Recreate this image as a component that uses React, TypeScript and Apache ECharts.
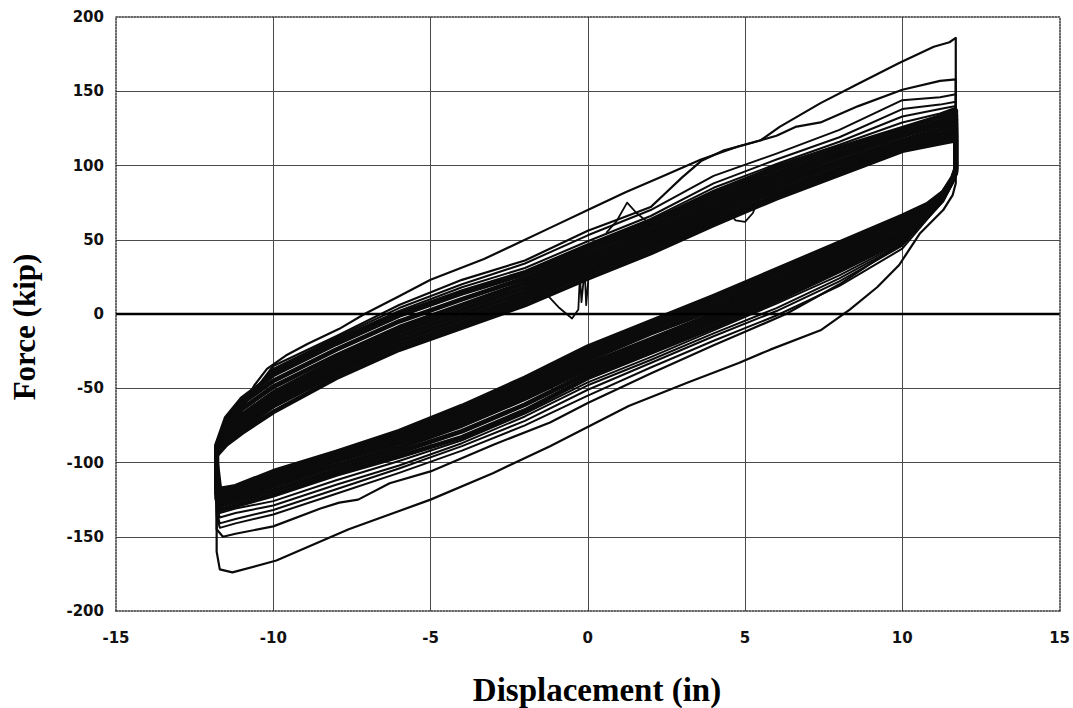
import React, { useEffect, useRef } from "react";
import * as echarts from "echarts";

// Axis ticks
const xTicks = [-15, -10, -5, 0, 5, 10, 15];
const yTicks = [-200, -150, -100, -50, 0, 50, 100, 150, 200];

// Outer cycle (first excursion) — explicit points [disp, force]
const loop1Upper = [[-11.8,-96],[-11.5,-80],[-11,-63],[-10.6,-48],[-10.2,-37],[-9.6,-28],[-8.9,-20],[-7.9,-10],[-7.1,0],[-6,12],[-5,23],[-3.3,37],[-1.2,58],[0,70],[1.2,82],[2.4,93],[3.6,104],[4.8,113],[5.5,117],[6.1,126],[7.4,142],[8.6,155],[9.9,169],[11.0,180],[11.5,183],[11.7,186]];
const loop1Lower = [[11.7,120],[11.7,88],[11.6,80],[11.3,70],[10.55,54],[9.9,33],[9.2,18],[8.33,3],[7.4,-11],[5.8,-24],[4.8,-33],[3.2,-46],[1.3,-62],[-1.2,-89],[-3,-107],[-5,-125],[-7.6,-145],[-9.9,-166],[-11.3,-174],[-11.7,-172],[-11.8,-160],[-11.8,-96]];

// Second cycle
const loop2Upper = [[-11.8,-94],[-11.5,-78],[-11,-63],[-10,-35],[-8,-15],[-6,6],[-4,23],[-2,36],[0,56],[1,64],[2,72],[2.4,80],[3,92],[3.6,103],[4.3,110],[5,114],[6,120],[6.6,126],[7.4,129],[8.6,140],[10,151],[11.2,157],[11.7,158]];
const loop2Lower = [[11.7,95],[11.6,88],[11.3,76],[10.6,60],[10,48],[8,20],[6.3,0],[5,-12],[4,-21],[2,-40],[0,-60],[-1.2,-73],[-3,-88],[-5,-106],[-6.3,-114],[-7.3,-125],[-7.9,-127],[-8.5,-131],[-10,-143],[-11.2,-148],[-11.6,-150],[-11.8,-145],[-11.8,-94]];

// Shared displacement stations for the later (dense) cycles
const xUp = [-11.8, -11.5, -11, -10, -8, -6, -4, -2, 0, 2, 4, 6, 8, 10, 11.2, 11.7];
const xDown = [11.7, 11.6, 11.3, 10.8, 10, 8, 6, 4, 2, 0, -2, -4, -6, -8, -10, -11.2, -11.7, -11.8];

const loop3Up = [-92, -76, -61, -37, -16, 4, 20, 34, 53, 70, 93, 108, 124, 144, 146, 148];
const loop4Up = [-91, -74, -59, -38, -17, 2, 18, 31, 49, 66, 88, 104, 119, 138, 141, 143];
const loop5Up = [-90, -73, -58, -39, -18, 1, 16, 29, 47, 64, 85, 101, 116, 133, 138, 140];
const loop6Up = [-89, -72, -58, -40, -19, 0, 15, 28, 46, 63, 83, 100, 114, 129, 135, 139];
const loop7Up = [-88, -70, -57, -41, -20, -1, 14, 27, 45, 62, 81, 98, 112, 125, 133, 137];
const loop8Up = [-89, -73, -60, -45, -24, -5, 10, 24, 42, 59, 78, 95, 109, 122, 130, 134];
const loop9Up = [-90, -76, -64, -49, -28, -9, 6, 21, 39, 56, 75, 92, 106, 120, 127, 131];
const loop10Up = [-91, -79, -68, -53, -31, -12, 3, 18, 36, 53, 72, 89, 103, 117, 124, 128];
const loop11Up = [-92, -81, -71, -56, -34, -15, 0, 15, 33, 50, 69, 86, 101, 115, 121, 125];
const loop12Up = [-93, -83, -74, -59, -37, -18, -3, 12, 30, 47, 66, 83, 98, 113, 119, 122];
const loop13Up = [-94, -86, -77, -62, -40, -21, -6, 9, 27, 44, 63, 80, 96, 111, 117, 120];
const loop14Up = [-95, -88, -80, -66, -43, -24, -9, 6, 24, 41, 60, 78, 94, 110, 115, 117];

const loop3Down = [96, 88, 76, 64, 44, 19, -1, -18, -36, -55, -75, -92, -107, -121, -135, -141, -144, -136];
const loop4Down = [96, 89, 77, 65, 46, 22, 2, -15, -33, -51, -72, -89, -104, -118, -132, -138, -141, -133];
const loop5Down = [95, 89, 78, 66, 47, 24, 4, -13, -31, -48, -69, -87, -102, -115, -129, -134, -137, -130];
const loop6Down = [95, 90, 78, 66, 48, 26, 7, -11, -29, -46, -67, -85, -99, -112, -126, -131, -134, -127];
const loop7Down = [95, 90, 79, 67, 50, 29, 9, -9, -26, -43, -65, -83, -96, -108, -122, -129, -132, -124];
const loop8Down = [95, 90, 79, 68, 52, 32, 12, -6, -23, -40, -61, -79, -93, -105, -119, -126, -129, -121];
const loop9Down = [96, 91, 80, 69, 54, 35, 15, -3, -20, -37, -57, -75, -90, -102, -116, -124, -127, -118];
const loop10Down = [96, 91, 80, 70, 56, 37, 18, 0, -17, -34, -54, -72, -87, -99, -114, -122, -125, -116];
const loop11Down = [97, 91, 81, 71, 59, 40, 21, 3, -13, -31, -51, -69, -85, -97, -112, -120, -123, -113];
const loop12Down = [97, 91, 81, 72, 61, 42, 24, 6, -10, -28, -48, -66, -83, -96, -110, -118, -121, -110];
const loop13Down = [98, 91, 82, 73, 64, 45, 27, 9, -8, -25, -45, -64, -81, -94, -108, -117, -120, -105];
const loop14Down = [98, 92, 82, 74, 66, 48, 30, 12, -5, -22, -43, -62, -79, -93, -106, -116, -118, -100];

// Local disturbances in the records
const glitchA = [[-1.7, 10], [-1.3, 13], [-0.9, 4], [-0.5, -3], [-0.3, 3], [-0.25, 26], [-0.2, 8], [-0.1, 30], [-0.05, 6], [0.05, 32], [0.3, 40]];
const glitchB = [[0.3, 36], [0.42, 29], [0.55, 29], [0.65, 36]];
const glitchC = [[0.6, 55], [0.9, 62], [1.25, 75], [1.55, 68], [1.95, 61]];
const glitchD = [[2.5, 58], [2.8, 52], [3.1, 51], [3.4, 56], [3.55, 62]];
const glitchE = [[4.4, 70], [4.7, 63], [5.0, 62], [5.25, 68], [5.4, 76]];

const outerBandLoops = [
  [loop3Up, loop3Down], [loop4Up, loop4Down], [loop5Up, loop5Down], [loop6Up, loop6Down],
];
const denseBandLoops = [
  [loop7Up, loop7Down], [loop8Up, loop8Down], [loop9Up, loop9Down], [loop10Up, loop10Down],
  [loop11Up, loop11Down], [loop12Up, loop12Down], [loop13Up, loop13Down], [loop14Up, loop14Down],
];

function buildGridLoop(up: number[], down: number[]) {
  const pts: number[][] = xUp.map((x, i) => [x, up[i]]);
  xDown.forEach((x, i) => pts.push([x, down[i]]));
  pts.push([xUp[0], up[0]]);
  return pts;
}

const INK = "#0b0b0b";

export default function App() {
  const ref = useRef<HTMLDivElement>(null);
  useEffect(() => {
    if (!ref.current) return;
    const chart = echarts.init(ref.current, undefined, { renderer: "svg" });

    const lineSeries = (data: number[][], width: number, extra: any = {}) => ({
      type: "line",
      data,
      showSymbol: false,
      symbol: "none",
      silent: true,
      smooth: false,
      lineStyle: { color: INK, width, join: "round", cap: "round" },
      ...extra,
    });

    const series: any[] = [];
    series.push(
      lineSeries(loop1Upper.concat(loop1Lower), 2.2, {
        markLine: {
          silent: true,
          symbol: "none",
          label: { show: false },
          lineStyle: { color: "#000", width: 2.4, type: "solid" },
          data: [{ yAxis: 0 }],
        },
      })
    );
    series.push(lineSeries(loop2Upper.concat(loop2Lower), 2.2));
    outerBandLoops.forEach(([u, d]) => series.push(lineSeries(buildGridLoop(u, d), 2)));
    denseBandLoops.forEach(([u, d]) => series.push(lineSeries(buildGridLoop(u, d), 4.8)));
    [glitchA, glitchB, glitchC, glitchD, glitchE].forEach((g) => series.push(lineSeries(g, 1.8)));

    const labelStyle = {
      color: "#111",
      fontFamily: "DejaVu Sans",
      fontWeight: "bold",
      fontSize: 15,
    };

    chart.setOption({
      animation: false,
      backgroundColor: "#ffffff",
      grid: { left: 116, right: 13, top: 17, bottom: 97, containLabel: false },
      xAxis: [
        {
          type: "value",
          min: -15,
          max: 15,
          interval: 5,
          axisLine: { show: true, onZero: false, lineStyle: { color: "#333", width: 1.5, type: "dotted" } },
          axisTick: { show: false },
          axisLabel: { ...labelStyle, margin: 19, formatter: (v: number) => String(v) },
          splitLine: { show: true, showMinLine: false, showMaxLine: false, lineStyle: { color: "#4a4a4a", width: 1 } },
        },
        {
          type: "value",
          position: "top",
          min: -15,
          max: 15,
          interval: 5,
          axisLine: { show: true, onZero: false, lineStyle: { color: "#333", width: 1.5, type: "dotted" } },
          axisTick: { show: false },
          axisLabel: { show: false },
          splitLine: { show: false },
        },
      ],
      yAxis: [
        {
          type: "value",
          min: -200,
          max: 200,
          interval: 50,
          axisLine: { show: true, onZero: false, lineStyle: { color: "#333", width: 1.5, type: "dotted" } },
          axisTick: { show: false },
          axisLabel: { ...labelStyle, margin: 12, formatter: (v: number) => String(v) },
          splitLine: { show: true, showMinLine: false, showMaxLine: false, lineStyle: { color: "#4a4a4a", width: 1 } },
        },
        {
          type: "value",
          position: "right",
          min: -200,
          max: 200,
          interval: 50,
          axisLine: { show: true, onZero: false, lineStyle: { color: "#333", width: 1.5, type: "dotted" } },
          axisTick: { show: false },
          axisLabel: { show: false },
          splitLine: { show: false },
        },
      ],
      graphic: [
        {
          type: "text",
          x: 597,
          y: 690,
          style: {
            text: "Displacement (in)",
            fill: "#000",
            font: "bold 33px 'Liberation Serif', 'Times New Roman', serif",
            textAlign: "center",
            textVerticalAlign: "middle",
          },
        },
        {
          type: "text",
          x: 24,
          y: 327,
          rotation: Math.PI / 2,
          style: {
            text: "Force (kip)",
            fill: "#000",
            font: "bold 31px 'Liberation Serif', 'Times New Roman', serif",
            textAlign: "center",
            textVerticalAlign: "middle",
          },
        },
      ],
      series,
    });
    return () => chart.dispose();
  }, []);
  return (
    <div
      ref={ref}
      style={{ position: "fixed", left: 0, top: 0, width: 1073, height: 708, background: "#fff" }}
    />
  );
}
